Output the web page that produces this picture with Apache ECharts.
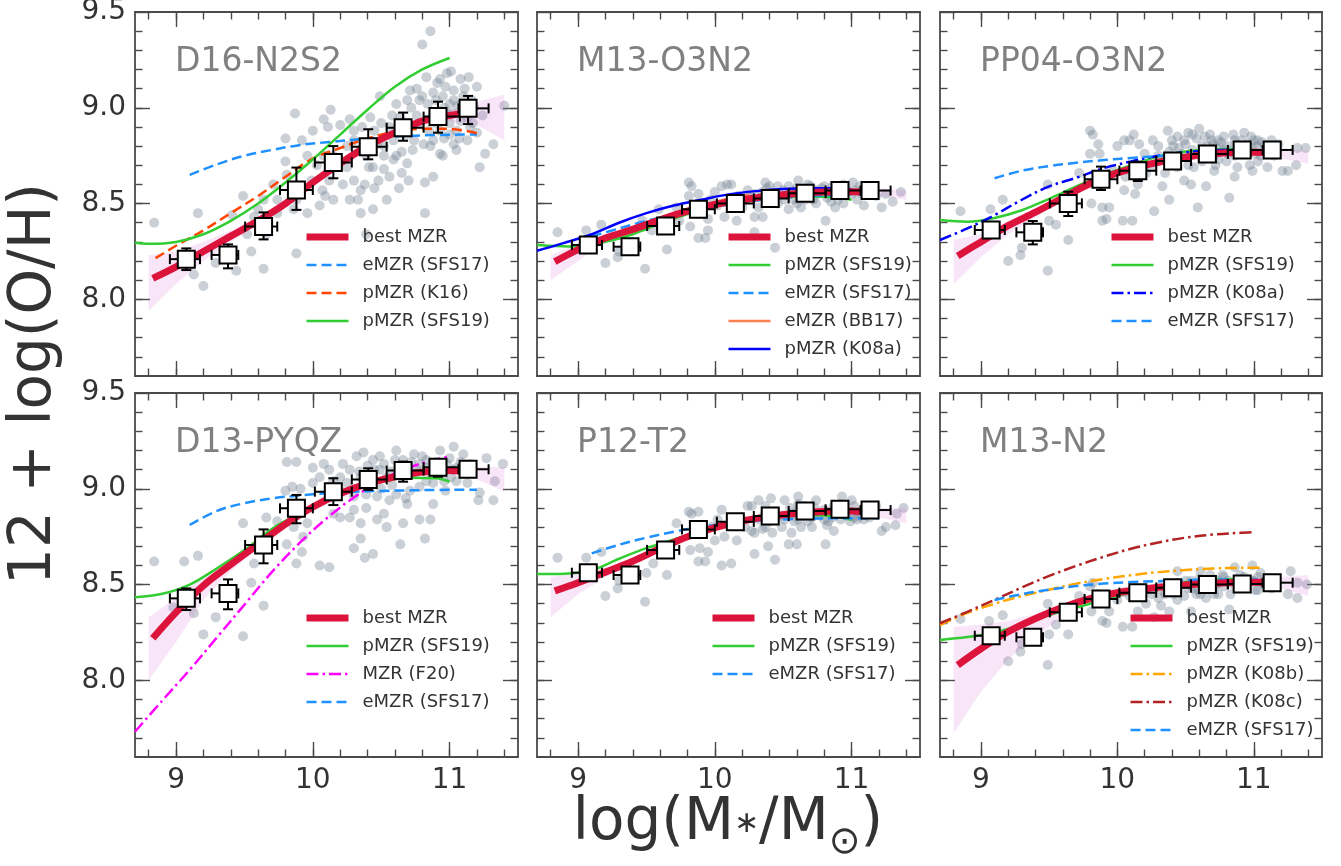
<!DOCTYPE html>
<html><head><meta charset="utf-8">
<script src="https://cdn.jsdelivr.net/npm/echarts@6.0.0/dist/echarts.min.js"></script>
<style>html,body{margin:0;padding:0;background:#fff}#c{width:1341px;height:866px}</style>
</head><body><div id="c"></div>
<script>
// ---------------- DATA ----------------
const xMajorTicks = [9, 10, 11];
const xMinorTicks = [8.8, 9.0, 9.2, 9.4, 9.6, 9.8, 10.0, 10.2, 10.4, 10.6, 10.8, 11.0, 11.2, 11.4];
const yMajorTicks = [8.0, 8.5, 9.0, 9.5];
const yMinorTicks = [7.7, 7.8, 7.9, 8.0, 8.1, 8.2, 8.3, 8.4, 8.5, 8.6, 8.7, 8.8, 8.9, 9.0, 9.1, 9.2, 9.3, 9.4];

const massBins  = [9.075, 9.38, 9.64, 9.88, 10.15, 10.405, 10.66, 10.915, 11.135];
const massBinLo = [8.955, 9.26, 9.505, 9.76, 10.015, 10.285, 10.54, 10.81, 11.065];
const massBinHi = [9.175, 9.455, 9.74, 10.0, 10.285, 10.54, 10.81, 11.075, 11.285];

// Panel 1: D16-N2S2
const p1_binOH = [8.21, 8.232, 8.38, 8.571, 8.715, 8.797, 8.896, 8.954, 8.997];
const p1_binLo = [8.153, 8.162, 8.313, 8.467, 8.632, 8.731, 8.828, 8.87, 8.915];
const p1_binHi = [8.266, 8.287, 8.454, 8.688, 8.80, 8.888, 8.975, 9.032, 9.062];
const p1_best = [[8.83,8.11],[9.0,8.17],[9.2,8.25],[9.4,8.33],[9.6,8.41],[9.8,8.50],[10.0,8.61],[10.2,8.71],[10.4,8.80],[10.6,8.87],[10.8,8.93],[11.0,8.96],[11.2,8.98]];
const p1_band = [[8.8,7.94,8.23],[9.0,8.08,8.25],[9.2,8.20,8.30],[9.4,8.30,8.36],[9.6,8.39,8.43],[9.8,8.48,8.52],[10.0,8.59,8.63],[10.2,8.69,8.73],[10.4,8.78,8.82],[10.6,8.85,8.89],[10.8,8.91,8.95],[11.0,8.93,8.99],[11.2,8.91,9.03],[11.4,8.83,9.07]];
const p1_pSFS19 = [[8.7,8.296],[8.8,8.29],[9.0,8.30],[9.2,8.34],[9.4,8.41],[9.6,8.50],[9.8,8.61],[10.0,8.73],[10.2,8.86],[10.4,8.99],[10.6,9.11],[10.8,9.20],[11.0,9.26]];
const p1_eSFS17 = [[9.1,8.65],[9.3,8.705],[9.5,8.75],[9.7,8.78],[9.9,8.805],[10.1,8.82],[10.3,8.833],[10.5,8.845],[10.7,8.853],[10.9,8.858],[11.1,8.86],[11.2,8.86]];
const p1_pK16 = [[8.85,8.215],[9.0,8.28],[9.2,8.36],[9.4,8.45],[9.6,8.54],[9.8,8.64],[10.0,8.735],[10.2,8.79],[10.4,8.84],[10.6,8.875],[10.8,8.89],[11.0,8.89],[11.2,8.867]];
const p1_scatter = [[8.84,8.40],[9.16,8.45],[9.20,8.07],[9.13,8.13],[9.49,8.54],[9.41,8.44],[9.29,8.19],[9.44,8.15],[9.64,8.16],[9.87,8.97],[9.92,8.83],[9.80,8.84],[9.80,8.72],[9.81,8.65],[9.86,8.47],[9.88,8.24],[9.96,8.45],[10.05,8.49],[10.07,8.57],[10.15,8.52],[10.00,8.88],[10.08,8.94],[10.11,8.90],[10.13,8.99],[10.20,8.91],[10.27,8.94],[10.30,8.88],[10.25,8.69],[10.30,8.62],[10.35,8.57],[10.35,8.45],[10.39,8.34],[10.44,8.47],[10.33,8.52],[10.38,8.60],[10.44,8.69],[10.52,8.75],[10.52,8.68],[10.54,8.52],[10.59,8.83],[10.61,8.75],[10.65,8.66],[10.69,9.04],[10.71,9.09],[10.76,9.10],[10.78,9.04],[10.80,9.33],[10.86,9.40],[10.83,9.16],[10.88,9.08],[10.91,9.13],[10.93,9.15],[10.98,9.18],[11.01,9.19],[11.08,9.15],[11.14,9.16],[11.03,9.04],[10.98,8.97],[10.93,8.88],[10.88,8.83],[10.86,8.80],[10.93,8.76],[10.95,8.75],[11.03,8.81],[11.05,8.78],[11.13,8.83],[11.17,8.92],[11.22,8.69],[11.26,8.76],[11.32,8.81],[11.40,9.01],[10.82,8.45],[10.88,8.64],[10.82,8.61],[10.71,8.90],[10.74,8.83],[10.81,8.81],[10.65,8.77],[10.69,8.71],[10.59,8.73],[10.47,8.81],[10.41,8.69],[10.35,8.78],[10.25,8.80],[10.17,8.69],[10.15,8.75],[10.08,8.75],[10.03,8.70],[9.96,8.75],[9.71,8.60],[9.74,8.52],[9.64,8.52],[9.60,8.47],[9.57,8.43],[9.52,8.34],[9.66,8.34],[9.74,8.45],[9.88,8.52],[10.09,8.54],[10.49,9.06],[10.61,9.02],[10.64,8.95],[10.30,8.83],[10.39,8.75],[10.52,8.80],[10.96,9.00],[11.03,9.09],[11.10,9.06],[11.16,9.04],[11.20,9.11],[11.00,8.92],[11.05,8.88],[11.13,8.95],[11.20,8.87],[11.24,8.96],[9.55,8.25],
  [10.72,9.00],[10.76,8.96],[10.80,9.06],[10.84,9.02],[10.87,8.95],[10.90,9.04],[10.92,8.98],[10.95,9.06],[10.97,9.11],[11.00,9.02],[11.02,8.97],[11.06,9.01],[11.08,8.93],[11.11,9.10],[11.12,9.00],[11.15,8.90],[11.18,9.00],[10.68,8.86],[10.73,8.78],[10.78,8.92],[10.85,8.88],[10.90,8.92],[10.96,8.84],[11.00,8.86],[11.07,8.84],[10.56,8.90],[10.58,8.96],[10.50,8.92],[10.45,8.88],[10.42,8.95],[10.36,8.90],[10.63,8.58],[10.70,8.62],[10.48,8.62],[10.56,8.64],[10.22,8.60],[10.12,8.62],[9.99,8.62],[10.27,8.52],[10.45,8.58]];

// Panel 2: M13-O3N2
const p2_binOH = [8.284, 8.275, 8.383, 8.47, 8.501, 8.527, 8.554, 8.568, 8.568];
const p2_binLo = [8.25, 8.24, 8.35, 8.44, 8.475, 8.505, 8.535, 8.55, 8.55];
const p2_binHi = [8.32, 8.31, 8.41, 8.50, 8.53, 8.55, 8.575, 8.585, 8.585];
const p2_best = [[8.83,8.197],[9.0,8.26],[9.2,8.32],[9.4,8.365],[9.6,8.415],[9.8,8.46],[10.0,8.495],[10.2,8.52],[10.4,8.54],[10.6,8.553],[10.8,8.56],[11.0,8.562],[11.2,8.56]];
const p2_band = [[8.8,8.10,8.23],[9.0,8.20,8.29],[9.2,8.30,8.34],[9.4,8.35,8.38],[9.6,8.40,8.43],[9.8,8.45,8.47],[10.0,8.485,8.505],[10.4,8.53,8.55],[10.8,8.55,8.57],[11.0,8.55,8.575],[11.2,8.54,8.58],[11.4,8.52,8.57]];
const p2_pSFS19 = [[8.7,8.284],[8.8,8.28],[9.0,8.276],[9.2,8.30],[9.4,8.34],[9.6,8.395],[9.8,8.445],[10.0,8.485],[10.2,8.51],[10.4,8.527],[10.6,8.535],[10.8,8.536],[11.0,8.52]];
const p2_eSFS17 = [[9.1,8.33],[9.3,8.37],[9.5,8.41],[9.7,8.44],[9.9,8.47],[10.1,8.495],[10.3,8.515],[10.5,8.53],[10.7,8.54],[10.9,8.545],[11.1,8.55],[11.2,8.55]];
const p2_eBB17 = [[9.15,8.31],[9.3,8.35],[9.5,8.40],[9.7,8.45],[9.9,8.49],[10.1,8.525],[10.25,8.545]];
const p2_pK08a = [[8.7,8.254],[8.9,8.295],[9.1,8.34],[9.3,8.40],[9.5,8.45],[9.7,8.49],[9.9,8.52],[10.1,8.548],[10.3,8.565],[10.5,8.576],[10.7,8.58],[10.9,8.58],[11.0,8.575]];
const p2_scatter = [[8.85,8.35],[9.06,8.36],[9.17,8.39],[9.20,8.19],[9.29,8.22],[9.30,8.25],[9.49,8.16],[9.65,8.26],[9.72,8.48],[9.81,8.61],[9.83,8.59],[9.88,8.55],[9.82,8.38],[9.88,8.32],[9.93,8.32],[9.95,8.36],[9.81,8.54],[10.00,8.56],[10.05,8.59],[10.09,8.60],[10.12,8.60],[10.07,8.43],[10.16,8.41],[10.22,8.52],[10.24,8.57],[10.29,8.43],[10.29,8.35],[10.35,8.43],[10.37,8.61],[10.40,8.59],[10.44,8.27],[10.46,8.59],[10.51,8.52],[10.54,8.47],[10.56,8.56],[10.61,8.62],[10.63,8.48],[10.66,8.52],[10.70,8.59],[10.74,8.57],[10.74,8.50],[10.81,8.41],[10.82,8.53],[10.87,8.55],[10.88,8.48],[10.94,8.60],[11.00,8.55],[11.01,8.61],[11.09,8.49],[11.11,8.56],[11.22,8.48],[11.30,8.51],[11.25,8.55],[11.36,8.56],[10.37,8.52],[10.32,8.48],[10.20,8.48],[10.02,8.49],[9.97,8.52],[9.95,8.42],[9.59,8.47],[9.47,8.41],[9.54,8.36],[9.74,8.41],[10.17,8.54],[10.46,8.50],[10.54,8.59],[10.68,8.56],[10.72,8.52],[10.80,8.59],[10.90,8.52],[10.94,8.50],[11.04,8.52],[11.18,8.54],[11.06,8.59],[10.58,8.52],[10.41,8.54],[10.29,8.55],
  [10.44,8.55],[10.50,8.57],[10.55,8.55],[10.60,8.58],[10.65,8.55],[10.68,8.60],[10.75,8.55],[10.78,8.58],[10.83,8.56],[10.86,8.59],[10.91,8.56],[10.97,8.57],[11.03,8.57],[11.08,8.55],[11.13,8.58],[10.35,8.56],[10.38,8.58],[10.60,8.50],[10.85,8.51],[10.25,8.53]];

// Panel 3: PP04-O3N2
const p3_binOH = [8.362, 8.35, 8.501, 8.627, 8.672, 8.722, 8.759, 8.78, 8.78];
const p3_binLo = [8.33, 8.287, 8.435, 8.571, 8.618, 8.69, 8.73, 8.75, 8.75];
const p3_binHi = [8.395, 8.409, 8.562, 8.693, 8.719, 8.755, 8.79, 8.81, 8.81];
const p3_best = [[8.83,8.227],[9.0,8.30],[9.2,8.385],[9.4,8.455],[9.6,8.53],[9.8,8.605],[10.0,8.66],[10.2,8.70],[10.4,8.73],[10.6,8.753],[10.8,8.765],[11.0,8.768],[11.2,8.762]];
const p3_band = [[8.8,8.08,8.31],[9.0,8.22,8.34],[9.2,8.34,8.41],[9.4,8.43,8.47],[9.6,8.515,8.545],[10.0,8.645,8.675],[10.4,8.715,8.745],[10.8,8.75,8.78],[11.0,8.75,8.785],[11.2,8.735,8.785],[11.4,8.707,8.775]];
const p3_pSFS19 = [[8.7,8.414],[8.9,8.405],[9.1,8.425],[9.3,8.465],[9.5,8.525],[9.7,8.59],[9.9,8.65],[10.1,8.70],[10.3,8.745],[10.5,8.772],[10.7,8.784],[10.9,8.785],[11.0,8.78]];
const p3_pK08a = [[8.7,8.31],[8.9,8.37],[9.1,8.44],[9.3,8.52],[9.5,8.59],[9.7,8.635],[9.9,8.685],[10.1,8.72],[10.3,8.75],[10.5,8.768],[10.7,8.778],[10.9,8.782],[11.0,8.783]];
const p3_eSFS17 = [[9.1,8.632],[9.3,8.672],[9.5,8.696],[9.7,8.713],[9.9,8.727],[10.1,8.738],[10.3,8.748],[10.5,8.757],[10.7,8.764],[10.9,8.77],[11.1,8.771],[11.2,8.771]];
const p3_scatter = [[8.85,8.46],[9.07,8.47],[9.16,8.52],[9.20,8.20],[9.29,8.23],[9.30,8.27],[9.49,8.15],[9.49,8.60],[9.50,8.41],[9.55,8.39],[9.64,8.31],[9.72,8.66],[9.80,8.88],[9.82,8.86],[9.86,8.81],[9.87,8.76],[9.80,8.76],[9.81,8.50],[9.89,8.48],[9.92,8.42],[9.89,8.41],[9.94,8.48],[10.0,8.80],[10.05,8.83],[10.09,8.83],[10.12,8.86],[10.16,8.81],[10.05,8.57],[10.06,8.64],[10.13,8.55],[10.04,8.41],[10.11,8.41],[10.15,8.60],[10.21,8.66],[10.26,8.83],[10.27,8.46],[10.30,8.75],[10.35,8.66],[10.33,8.59],[10.37,8.88],[10.38,8.52],[10.41,8.80],[10.44,8.69],[10.49,8.62],[10.52,8.87],[10.54,8.60],[10.59,8.48],[10.60,8.89],[10.64,8.85],[10.65,8.59],[10.71,8.67],[10.74,8.83],[10.78,8.85],[10.82,8.53],[10.86,8.64],[10.88,8.69],[10.93,8.87],[10.97,8.70],[10.99,8.67],[11.03,8.83],[11.10,8.69],[11.13,8.83],[11.21,8.67],[11.25,8.67],[11.32,8.79],[11.38,8.79],[11.31,8.70],[10.47,8.76],[10.54,8.75],[10.66,8.80],[10.71,8.75],[10.81,8.76],[10.86,8.75],[10.93,8.78],[11.01,8.76],[11.08,8.80],[11.17,8.78],[10.30,8.80],[10.20,8.76],[10.25,8.69],[10.35,8.73],[10.56,8.69],[10.61,8.75],[10.74,8.73],[10.78,8.78],[10.91,8.83],[11.03,8.72],[10.40,8.83],[10.44,8.85],[10.49,8.83],[10.69,8.83],[10.86,8.83],[10.98,8.85],[11.05,8.75],[11.15,8.75],[9.96,8.68],
  [10.45,8.79],[10.50,8.81],[10.55,8.78],[10.58,8.84],[10.62,8.80],[10.67,8.77],[10.70,8.81],[10.73,8.79],[10.76,8.82],[10.80,8.80],[10.84,8.78],[10.87,8.81],[10.90,8.79],[10.95,8.81],[10.99,8.79],[11.02,8.80],[11.06,8.82],[11.10,8.78],[11.14,8.80],[11.18,8.81],[10.62,8.72],[10.72,8.70],[10.80,8.72],[10.52,8.70],[10.42,8.72],[10.68,8.86],[10.85,8.86],[11.00,8.83],[10.38,8.77],[10.55,8.86]];

// Panel 4: D13-PYQZ
const p4_binOH = [8.428, 8.454, 8.707, 8.898, 8.985, 9.049, 9.095, 9.112, 9.102];
const p4_binLo = [8.367, 8.371, 8.611, 8.82, 8.915, 8.994, 9.037, 9.063, 9.07];
const p4_binHi = [8.48, 8.527, 8.788, 8.968, 9.055, 9.107, 9.142, 9.154, 9.135];
const p4_best = [[8.83,8.22],[9.0,8.355],[9.2,8.495],[9.4,8.605],[9.6,8.71],[9.8,8.815],[10.0,8.905],[10.2,8.975],[10.4,9.027],[10.6,9.063],[10.8,9.087],[11.0,9.095],[11.2,9.082]];
const p4_band = [[8.8,8.00,8.33],[9.0,8.20,8.43],[9.2,8.42,8.545],[9.4,8.57,8.635],[9.6,8.69,8.73],[9.8,8.795,8.835],[10.0,8.885,8.925],[10.4,9.01,9.045],[10.8,9.07,9.10],[11.0,9.075,9.115],[11.2,9.05,9.115],[11.4,8.985,9.112]];
const p4_pSFS19 = [[8.7,8.434],[8.9,8.452],[9.1,8.50],[9.3,8.585],[9.5,8.68],[9.7,8.79],[9.9,8.87],[10.1,8.94],[10.3,8.995],[10.5,9.035],[10.7,9.058],[10.9,9.055],[11.0,9.037]];
const p4_F20 = [[8.7,7.732],[8.9,7.895],[9.1,8.055],[9.3,8.225],[9.5,8.395],[9.7,8.565],[9.9,8.715],[10.1,8.845],[10.3,8.955],[10.5,9.045],[10.7,9.11],[10.9,9.153],[11.0,9.168]];
const p4_eSFS17 = [[9.1,8.811],[9.3,8.885],[9.5,8.925],[9.7,8.95],[9.9,8.965],[10.1,8.977],[10.3,8.984],[10.5,8.989],[10.7,8.992],[10.9,8.994],[11.1,8.995],[11.2,8.995]];
const p4_scatter = [[8.84,8.62],[9.06,8.62],[9.16,8.65],[8.98,8.38],[9.13,8.35],[9.20,8.24],[9.29,8.33],[9.49,8.23],[9.49,8.82],[9.55,8.51],[9.57,8.61],[9.64,8.39],[9.66,8.85],[9.74,8.83],[9.81,9.14],[9.88,9.14],[9.80,8.99],[9.85,9.01],[9.91,9.00],[9.81,8.71],[9.88,8.61],[9.92,8.67],[9.93,8.75],[9.96,8.82],[10.0,9.11],[10.05,9.06],[10.08,9.13],[10.12,9.10],[10.05,8.60],[10.12,8.59],[10.15,8.87],[10.20,8.99],[10.22,9.13],[10.27,9.10],[10.30,8.69],[10.30,8.89],[10.35,8.82],[10.35,8.74],[10.38,8.64],[10.39,8.90],[10.44,8.66],[10.32,9.17],[10.37,9.19],[10.44,9.15],[10.49,9.10],[10.52,8.87],[10.54,8.80],[10.56,8.94],[10.61,9.20],[10.64,8.71],[10.66,8.82],[10.69,8.92],[10.74,9.18],[10.78,9.13],[10.82,8.74],[10.86,8.84],[10.88,8.92],[10.93,9.20],[10.96,9.04],[11.03,9.22],[11.05,9.04],[11.10,9.18],[11.13,9.03],[11.21,8.94],[11.22,8.98],[11.27,9.16],[11.32,8.94],[11.33,9.04],[11.39,9.13],[10.30,8.96],[10.39,8.97],[10.47,8.96],[10.61,8.97],[10.71,8.99],[10.78,9.01],[10.88,9.03],[10.93,9.08],[11.01,9.06],[11.05,9.11],[11.15,9.13],[10.74,9.08],[10.64,9.11],[10.54,9.06],[10.42,9.04],[10.35,9.06],[10.20,9.06],[10.15,9.04],[10.0,9.03],[10.27,8.85],[10.47,8.84],[10.78,8.84],[10.98,9.13],[11.10,9.08],[10.66,9.15],[10.83,9.15],[10.49,9.17],[10.20,8.85],[9.86,8.80],
  [10.45,9.10],[10.52,9.13],[10.57,9.09],[10.60,9.15],[10.65,9.06],[10.69,9.12],[10.72,9.14],[10.76,9.10],[10.80,9.17],[10.84,9.11],[10.87,9.08],[10.90,9.14],[10.95,9.11],[11.00,9.16],[11.03,9.10],[11.08,9.14],[11.12,9.10],[10.40,9.12],[10.34,9.09],[10.25,9.03],[10.58,9.02],[10.83,9.04],[10.97,8.99],[10.68,8.95],[10.50,9.00]];

// Panel 5: P12-T2
const p5_binOH = [8.562, 8.55, 8.681, 8.788, 8.828, 8.858, 8.884, 8.893, 8.889];
const p5_binLo = [8.53, 8.51, 8.65, 8.76, 8.80, 8.835, 8.86, 8.87, 8.865];
const p5_binHi = [8.595, 8.59, 8.71, 8.815, 8.855, 8.88, 8.905, 8.915, 8.91];
const p5_best = [[8.83,8.467],[9.0,8.51],[9.2,8.565],[9.4,8.622],[9.6,8.688],[9.8,8.75],[10.0,8.797],[10.2,8.832],[10.4,8.856],[10.6,8.872],[10.8,8.881],[11.0,8.884],[11.2,8.873]];
const p5_band = [[8.8,8.33,8.54],[9.0,8.45,8.56],[9.2,8.54,8.59],[9.4,8.605,8.64],[9.6,8.675,8.70],[10.0,8.785,8.81],[10.4,8.845,8.868],[10.8,8.868,8.894],[11.0,8.868,8.90],[11.2,8.85,8.90],[11.4,8.82,8.898]];
const p5_pSFS19 = [[8.7,8.555],[8.9,8.557],[9.1,8.575],[9.3,8.635],[9.5,8.69],[9.7,8.735],[9.9,8.78],[10.1,8.815],[10.3,8.84],[10.5,8.857],[10.7,8.863],[10.9,8.855],[11.0,8.837]];
const p5_eSFS17 = [[9.1,8.663],[9.3,8.708],[9.5,8.745],[9.7,8.776],[9.9,8.80],[10.1,8.82],[10.3,8.833],[10.5,8.84],[10.7,8.844],[10.9,8.846],[11.1,8.846],[11.2,8.846]];
const p5_scatter = [[8.85,8.64],[9.06,8.64],[9.17,8.67],[9.20,8.44],[9.29,8.48],[9.30,8.52],[9.49,8.41],[9.50,8.56],[9.55,8.61],[9.65,8.55],[9.72,8.82],[9.81,8.88],[9.83,8.87],[9.88,8.88],[9.82,8.68],[9.88,8.62],[9.93,8.62],[9.95,8.67],[9.89,8.69],[10.0,8.73],[10.05,8.89],[10.05,8.60],[10.12,8.61],[10.07,8.75],[10.16,8.73],[10.22,8.80],[10.24,8.91],[10.29,8.66],[10.29,8.77],[10.35,8.79],[10.37,8.91],[10.39,8.70],[10.41,8.95],[10.44,8.63],[10.51,8.94],[10.54,8.71],[10.56,8.77],[10.60,8.71],[10.61,8.96],[10.63,8.80],[10.68,8.83],[10.74,8.94],[10.81,8.71],[10.82,8.81],[10.87,8.78],[10.93,8.96],[11.0,8.94],[11.02,8.85],[11.09,8.84],[11.22,8.78],[11.25,8.80],[11.32,8.81],[11.38,8.90],[11.33,8.87],[10.32,8.84],[10.46,8.85],[10.51,8.84],[10.56,8.87],[10.66,8.87],[10.71,8.85],[10.75,8.87],[10.80,8.89],[10.87,8.91],[10.94,8.89],[11.02,8.91],[11.06,8.88],[11.13,8.85],[11.18,8.91],[10.37,8.80],[10.27,8.78],[10.20,8.84],[10.12,8.82],[10.02,8.84],[9.98,8.80],[10.42,8.77],[10.49,8.80],[10.61,8.84],[10.71,8.80],[10.80,8.84],[10.92,8.84],[11.04,8.84],[10.27,8.91],[10.32,8.94],[10.61,8.92],[10.92,8.92],
  [10.44,8.88],[10.50,8.86],[10.55,8.90],[10.60,8.88],[10.65,8.91],[10.69,8.88],[10.73,8.90],[10.77,8.86],[10.83,8.88],[10.86,8.85],[10.90,8.87],[10.96,8.86],[11.00,8.88],[11.05,8.86],[11.10,8.89],[10.36,8.86],[10.40,8.83],[10.58,8.83],[10.83,8.83],[10.99,8.83]];

// Panel 6: M13-N2
const p6_binOH = [8.233, 8.225, 8.355, 8.425, 8.458, 8.484, 8.501, 8.503, 8.51];
const p6_binLo = [8.20, 8.19, 8.325, 8.40, 8.435, 8.46, 8.48, 8.48, 8.49];
const p6_binHi = [8.265, 8.26, 8.385, 8.45, 8.48, 8.505, 8.52, 8.525, 8.53];
const p6_best = [[8.83,8.08],[9.0,8.165],[9.2,8.254],[9.4,8.323],[9.6,8.382],[9.8,8.427],[10.0,8.457],[10.2,8.478],[10.4,8.493],[10.6,8.503],[10.8,8.51],[11.0,8.512],[11.2,8.51]];
const p6_band = [[8.8,7.724,8.28],[9.0,7.94,8.29],[9.2,8.11,8.31],[9.4,8.23,8.345],[9.6,8.33,8.395],[9.8,8.40,8.44],[10.0,8.445,8.47],[10.4,8.48,8.505],[10.8,8.497,8.523],[11.0,8.495,8.53],[11.2,8.48,8.54],[11.4,8.44,8.55]];
const p6_pSFS19 = [[8.7,8.211],[8.9,8.226],[9.1,8.25],[9.3,8.29],[9.5,8.34],[9.7,8.38],[9.9,8.42],[10.1,8.46],[10.3,8.492],[10.5,8.513],[10.7,8.526],[10.9,8.529],[11.0,8.524]];
const p6_pK08b = [[8.7,8.289],[8.9,8.352],[9.1,8.40],[9.3,8.44],[9.5,8.473],[9.7,8.505],[9.9,8.529],[10.1,8.549],[10.3,8.565],[10.5,8.576],[10.7,8.584],[10.9,8.587],[11.05,8.588]];
const p6_pK08c = [[8.7,8.298],[8.9,8.358],[9.1,8.42],[9.3,8.485],[9.5,8.545],[9.7,8.598],[9.9,8.645],[10.1,8.687],[10.3,8.72],[10.5,8.745],[10.7,8.761],[10.9,8.77],[11.0,8.773]];
const p6_eSFS17 = [[9.1,8.42],[9.3,8.45],[9.5,8.473],[9.7,8.492],[9.9,8.505],[10.1,8.513],[10.3,8.518],[10.5,8.523],[10.7,8.526],[10.9,8.527],[11.1,8.527],[11.2,8.527]];
const p6_scatter = [[8.85,8.32],[9.06,8.31],[9.16,8.34],[9.20,8.10],[9.29,8.15],[9.30,8.19],[9.49,8.08],[9.49,8.40],[9.50,8.24],[9.55,8.29],[9.64,8.24],[9.72,8.44],[9.80,8.49],[9.82,8.51],[9.86,8.45],[9.81,8.36],[9.89,8.31],[9.92,8.30],[9.87,8.42],[9.94,8.36],[10.0,8.42],[10.05,8.46],[10.09,8.44],[10.12,8.45],[10.04,8.28],[10.11,8.28],[10.15,8.36],[10.21,8.40],[10.27,8.33],[10.30,8.43],[10.32,8.39],[10.37,8.49],[10.38,8.36],[10.41,8.45],[10.44,8.57],[10.49,8.44],[10.52,8.48],[10.54,8.36],[10.59,8.47],[10.61,8.57],[10.65,8.43],[10.71,8.49],[10.74,8.52],[10.78,8.54],[10.82,8.37],[10.86,8.59],[10.88,8.48],[10.93,8.54],[10.99,8.60],[11.03,8.47],[11.10,8.52],[11.13,8.48],[11.25,8.45],[11.27,8.57],[11.32,8.43],[11.39,8.50],[11.32,8.51],[10.44,8.51],[10.54,8.50],[10.66,8.52],[10.71,8.45],[10.78,8.49],[10.93,8.51],[10.98,8.52],[11.06,8.51],[11.17,8.52],[10.30,8.49],[10.35,8.45],[10.17,8.44],[10.25,8.45],[10.44,8.42],[10.61,8.45],[10.83,8.45],[10.88,8.52],[11.01,8.47],[11.03,8.54],[10.74,8.45],[10.54,8.52],
  [10.45,8.48],[10.50,8.52],[10.55,8.48],[10.60,8.53],[10.65,8.49],[10.68,8.55],[10.73,8.50],[10.77,8.55],[10.81,8.52],[10.85,8.50],[10.90,8.55],[10.95,8.49],[11.00,8.52],[11.05,8.56],[11.08,8.49],[11.12,8.53],[11.16,8.50],[10.38,8.50],[10.33,8.47],[10.58,8.45]];

// ---------------- STYLE / LAYOUT ----------------
const FONT = 'DejaVu Sans';
const AX = '#4a4a4a';
const TXT = '#333333';
const DASH = [10, 5];
const DASHDOT = [12, 4, 2.5, 4];
const COL = {green:'#32CD32', dodger:'#1E90FF', orangered:'#FF4500', coral:'#FF7F50', blue:'#0000FF',
  magenta:'#FF00FF', orange:'#FFA500', brown:'#B22222', red:'#DC143C'};
const gridLefts = [135, 537, 940];
const gridWidths = [383, 383, 382];
const gridTops = [12, 393];
const gridH = 364;

const panels = [
  {title:'D16-N2S2', scatter:p1_scatter, band:p1_band, best:p1_best, binOH:p1_binOH, binLo:p1_binLo, binHi:p1_binHi,
   models:[{name:'eMZR (SFS17)', data:p1_eSFS17, color:COL.dodger, type:DASH},
           {name:'pMZR (K16)', data:p1_pK16, color:COL.orangered, type:DASH},
           {name:'pMZR (SFS19)', data:p1_pSFS19, color:COL.green, type:'solid'}],
   legend:['best MZR','eMZR (SFS17)','pMZR (K16)','pMZR (SFS19)'], legendPos:[303,227]},
  {title:'M13-O3N2', scatter:p2_scatter, band:p2_band, best:p2_best, binOH:p2_binOH, binLo:p2_binLo, binHi:p2_binHi,
   models:[{name:'pMZR (SFS19)', data:p2_pSFS19, color:COL.green, type:'solid'},
           {name:'eMZR (SFS17)', data:p2_eSFS17, color:COL.dodger, type:DASH},
           {name:'eMZR (BB17)', data:p2_eBB17, color:COL.coral, type:'solid'},
           {name:'pMZR (K08a)', data:p2_pK08a, color:COL.blue, type:'solid'}],
   legend:['best MZR','pMZR (SFS19)','eMZR (SFS17)','eMZR (BB17)','pMZR (K08a)'], legendPos:[725,227]},
  {title:'PP04-O3N2', scatter:p3_scatter, band:p3_band, best:p3_best, binOH:p3_binOH, binLo:p3_binLo, binHi:p3_binHi,
   models:[{name:'pMZR (SFS19)', data:p3_pSFS19, color:COL.green, type:'solid'},
           {name:'pMZR (K08a)', data:p3_pK08a, color:COL.blue, type:DASHDOT},
           {name:'eMZR (SFS17)', data:p3_eSFS17, color:COL.dodger, type:DASH}],
   legend:['best MZR','pMZR (SFS19)','pMZR (K08a)','eMZR (SFS17)'], legendPos:[1108,227]},
  {title:'D13-PYQZ', scatter:p4_scatter, band:p4_band, best:p4_best, binOH:p4_binOH, binLo:p4_binLo, binHi:p4_binHi,
   models:[{name:'pMZR (SFS19)', data:p4_pSFS19, color:COL.green, type:'solid'},
           {name:'MZR (F20)', data:p4_F20, color:COL.magenta, type:DASHDOT},
           {name:'eMZR (SFS17)', data:p4_eSFS17, color:COL.dodger, type:DASH}],
   legend:['best MZR','pMZR (SFS19)','MZR (F20)','eMZR (SFS17)'], legendPos:[303,608]},
  {title:'P12-T2', scatter:p5_scatter, band:p5_band, best:p5_best, binOH:p5_binOH, binLo:p5_binLo, binHi:p5_binHi,
   models:[{name:'pMZR (SFS19)', data:p5_pSFS19, color:COL.green, type:'solid'},
           {name:'eMZR (SFS17)', data:p5_eSFS17, color:COL.dodger, type:DASH}],
   legend:['best MZR','pMZR (SFS19)','eMZR (SFS17)'], legendPos:[709,608]},
  {title:'M13-N2', scatter:p6_scatter, band:p6_band, best:p6_best, binOH:p6_binOH, binLo:p6_binLo, binHi:p6_binHi,
   models:[{name:'pMZR (SFS19)', data:p6_pSFS19, color:COL.green, type:'solid'},
           {name:'pMZR (K08b)', data:p6_pK08b, color:COL.orange, type:DASHDOT},
           {name:'pMZR (K08c)', data:p6_pK08c, color:COL.brown, type:DASHDOT},
           {name:'eMZR (SFS17)', data:p6_eSFS17, color:COL.dodger, type:DASH}],
   legend:['best MZR','pMZR (SFS19)','pMZR (K08b)','pMZR (K08c)','eMZR (SFS17)'], legendPos:[1127,608]}
];

// ---------------- BUILD ----------------
const grids = [], xAxes = [], yAxes = [], series = [], legends = [], titles = [];

function mkAxis(g, pos, vals, len, showLine, showLabel, isX) {
  return {
    gridIndex: g, type: 'value', position: pos,
    min: isX ? 8.7 : 7.6, max: isX ? 11.5 : 9.5,
    axisLine: {show: showLine, onZero: false, lineStyle: {color: AX, width: 1.8}},
    axisTick: {show: true, inside: true, length: len, customValues: vals, lineStyle: {color: AX, width: 1.4}},
    axisLabel: {show: showLabel, customValues: vals, fontSize: 28, color: TXT, fontFamily: FONT,
      margin: isX ? 10 : 9, formatter: isX ? (v => String(Math.round(v))) : (v => v.toFixed(1))},
    splitLine: {show: false}
  };
}

function errRender(params, api) {
  const x = api.value(0), y = api.value(1), xl = api.value(2), xh = api.value(3), yl = api.value(4), yh = api.value(5);
  const L = api.coord([xl, y]), R = api.coord([xh, y]), B = api.coord([x, yl]), T = api.coord([x, yh]);
  const c = 5, st = {stroke: '#000', lineWidth: 2};
  const ln = (x1, y1, x2, y2) => ({type: 'line', shape: {x1, y1, x2, y2}, style: st});
  return {type: 'group', children: [
    ln(L[0], L[1], R[0], R[1]), ln(L[0], L[1] - c, L[0], L[1] + c), ln(R[0], R[1] - c, R[0], R[1] + c),
    ln(B[0], B[1], T[0], T[1]), ln(B[0] - c, B[1], B[0] + c, B[1]), ln(T[0] - c, T[1], T[0] + c, T[1])
  ]};
}

function bandRender(rows) {
  return function (params, api) {
    if (params.dataIndex !== 0) return null;
    const up = rows.map(r => api.coord([r[0], r[2]]));
    const lo = rows.map(r => api.coord([r[0], r[1]])).reverse();
    return {type: 'polygon', shape: {points: up.concat(lo)}, style: {fill: 'rgba(218,112,214,0.18)'}};
  };
}

panels.forEach((p, i) => {
  const col = i % 3, row = Math.floor(i / 3);
  grids.push({left: gridLefts[col], top: gridTops[row], width: gridWidths[col], height: gridH, outerBoundsMode: 'none'});
  const base = xAxes.length;
  xAxes.push(mkAxis(i, 'bottom', xMajorTicks, 15, true, row === 1, true));
  xAxes.push(mkAxis(i, 'bottom', xMinorTicks, 7.5, false, false, true));
  xAxes.push(mkAxis(i, 'top', xMajorTicks, 15, true, false, true));
  xAxes.push(mkAxis(i, 'top', xMinorTicks, 7.5, false, false, true));
  yAxes.push(mkAxis(i, 'left', yMajorTicks, 15, true, col === 0, false));
  yAxes.push(mkAxis(i, 'left', yMinorTicks, 7.5, false, false, false));
  yAxes.push(mkAxis(i, 'right', yMajorTicks, 15, true, false, false));
  yAxes.push(mkAxis(i, 'right', yMinorTicks, 7.5, false, false, false));
  const ax = {xAxisIndex: base, yAxisIndex: base};

  series.push(Object.assign({type: 'scatter', data: p.scatter, symbolSize: 10, silent: true, z: 1,
    itemStyle: {color: '#708090', opacity: 0.37}}, ax));
  series.push(Object.assign({type: 'custom', data: p.band, renderItem: bandRender(p.band), silent: true, z: 2,
    encode: {x: 0, y: [1, 2]}}, ax));
  const styleMap = {'best MZR': {color: COL.red, width: 7, type: 'solid'}};
  p.models.forEach(m => {
    styleMap[m.name] = {color: m.color, width: 2.5, type: m.type};
    series.push(Object.assign({type: 'line', name: m.name, data: m.data, symbol: 'none', smooth: 0.35, silent: true, z: 3,
      lineStyle: {color: m.color, width: 2.5, type: m.type}, itemStyle: {color: m.color}}, ax));
  });
  series.push(Object.assign({type: 'line', name: 'best MZR', data: p.best, symbol: 'none', smooth: 0.35, silent: true, z: 4,
    lineStyle: {color: COL.red, width: 7, cap: 'butt'}, itemStyle: {color: COL.red}}, ax));
  const errData = massBins.map((m, k) => [m, p.binOH[k], massBinLo[k], massBinHi[k], p.binLo[k], p.binHi[k]]);
  series.push(Object.assign({type: 'custom', data: errData, renderItem: errRender, silent: true, z: 5,
    encode: {x: [0, 2, 3], y: [1, 4, 5]}}, ax));
  series.push(Object.assign({type: 'scatter', data: massBins.map((m, k) => [m, p.binOH[k]]), symbol: 'rect', symbolSize: 17,
    silent: true, z: 6, itemStyle: {color: '#ffffff', borderColor: '#000000', borderWidth: 2, opacity: 1}}, ax));

  legends.push({
    orient: 'vertical', left: p.legendPos[0], top: p.legendPos[1], padding: 0,
    itemWidth: 42, itemHeight: 14, itemGap: 8, selectedMode: false,
    textStyle: {fontSize: 18, color: TXT, fontFamily: FONT, lineHeight: 20, padding: [0, 0, 0, 9]},
    data: p.legend.map(n => ({name: n, lineStyle: styleMap[n], itemStyle: {opacity: 0, borderWidth: 0, color: 'rgba(0,0,0,0)'}}))
  });
  titles.push({text: p.title, left: gridLefts[col] + 40, top: gridTops[row] + 34, padding: 0,
    textStyle: {fontSize: 33, color: '#808080', fontWeight: 'normal', fontFamily: FONT}});
});

const chart = echarts.init(document.getElementById('c'), null, {renderer: 'canvas'});
chart.setOption({
  animation: false,
  backgroundColor: '#ffffff',
  title: titles,
  grid: grids,
  xAxis: xAxes,
  yAxis: yAxes,
  legend: legends,
  series: series,
  graphic: [
    {type: 'text', x: 35, y: 384, rotation: Math.PI / 2,
     style: {text: '12 + log(O/H)', font: '58px "DejaVu Sans"', fill: TXT, align: 'center', verticalAlign: 'middle'}},
    {type: 'text', x: 728, y: 824,
     style: {text: '{a|log(M}{s|∗}{a|/M}{b|⊙}{a|)}', fill: TXT, align: 'center', verticalAlign: 'middle',
       rich: {a: {fontSize: 58, fontFamily: FONT, lineHeight: 76, verticalAlign: 'middle', fill: TXT},
              s: {fontSize: 30, fontFamily: FONT, lineHeight: 76, verticalAlign: 'middle', fill: TXT},
              b: {fontSize: 38, fontFamily: FONT, lineHeight: 38, verticalAlign: 'bottom', fill: TXT}}}}
  ]
});
</script></body></html>
